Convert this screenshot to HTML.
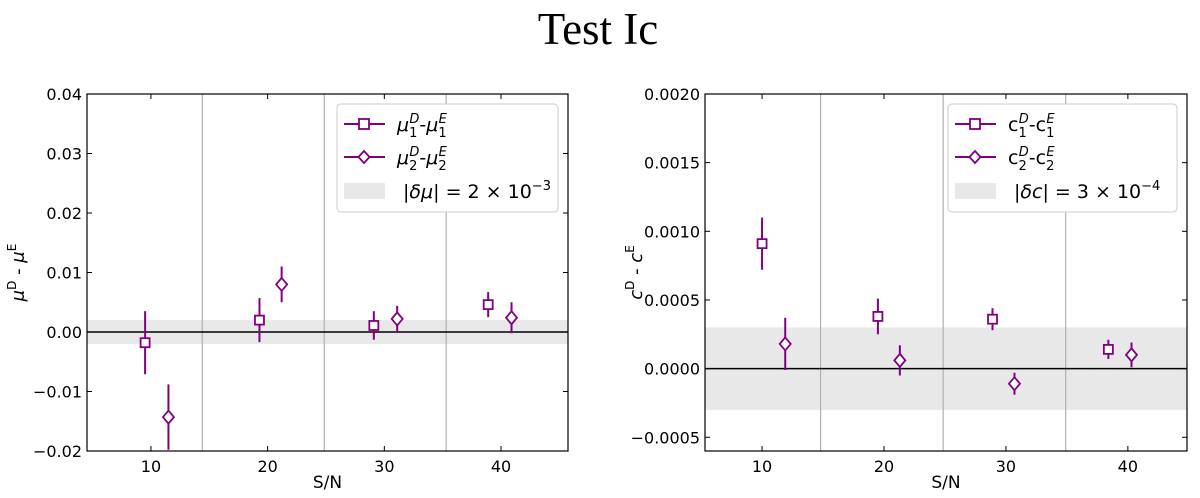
<!DOCTYPE html>
<html><head><meta charset="utf-8"><style>
body{margin:0;background:#fff;width:1200px;height:493px;overflow:hidden}
svg text{font-family:"DejaVu Sans","Liberation Sans",sans-serif;fill:#000}
</style></head><body>
<svg id="fig" width="1200" height="493" xmlns="http://www.w3.org/2000/svg">
<text x="598" y="44" text-anchor="middle" style="font-family:'Liberation Serif',serif;font-size:45px">Test Ic</text>
</svg>
<script>
const NS="http://www.w3.org/2000/svg";
const svg=document.getElementById('fig');
const PURPLE="#800080";
// Left panel data
const muSqX=[9.5,19.3,29.1,38.9];
const muSqY=[-0.0018,0.0020,0.0011,0.0046];
const muSqE=[0.0053,0.0037,0.0024,0.0021];
const muDiX=[11.5,21.2,31.1,40.9];
const muDiY=[-0.0143,0.0080,0.0022,0.0024];
const muDiE=[0.0055,0.0030,0.0022,0.0026];
const muTicks=[-0.02,-0.01,0.00,0.01,0.02,0.03,0.04];
const muTickLabels=["\u22120.02","\u22120.01","0.00","0.01","0.02","0.03","0.04"];
// Right panel data
const cSqX=[10.0,19.5,28.9,38.4];
const cSqY=[0.00091,0.00038,0.00036,0.00014];
const cSqE=[0.00019,0.00013,0.00008,0.00007];
const cDiX=[11.9,21.3,30.7,40.3];
const cDiY=[0.00018,0.00006,-0.00011,0.00010];
const cDiE=[0.00019,0.00011,0.00008,0.00009];
const cTicks=[-0.0005,0,0.0005,0.0010,0.0015,0.0020];
const cTickLabels=["\u22120.0005","0.0000","0.0005","0.0010","0.0015","0.0020"];
const xTicks=[10,20,30,40];
const vLines=[[14.4,24.85,35.3],[14.8,24.85,34.9]];

function el(tag,attrs,parent){const e=document.createElementNS(NS,tag);for(const k in attrs)e.setAttribute(k,attrs[k]);(parent||svg).appendChild(e);return e;}

function panel(cfg){
  const g=el('g',{});
  
  
  const X=v=>cfg.L+(v-cfg.xmin)/(cfg.xmax-cfg.xmin)*(cfg.R-cfg.L);
  const Y=v=>cfg.B-(v-cfg.ymin)/(cfg.ymax-cfg.ymin)*(cfg.B-cfg.T);
  const clip='clip-'+cfg.name;
  const cp=el('clipPath',{id:clip},g);el('rect',{x:cfg.L,y:cfg.T,width:cfg.R-cfg.L,height:cfg.B-cfg.T},cp);
  const band=el('rect',{x:cfg.L,y:Y(cfg.band),width:cfg.R-cfg.L,height:Y(-cfg.band)-Y(cfg.band),fill:"#e8e8e8"},g);
  
  
  cfg.vl.forEach(v=>{const l=el('line',{x1:X(v),x2:X(v),y1:cfg.T,y2:cfg.B,stroke:"#b0b0b0","stroke-width":1.2},g);
    
    });
  const z=el('line',{x1:cfg.L,x2:cfg.R,y1:Y(0),y2:Y(0),stroke:"#000","stroke-width":1.5},g);
  
  
  const pg=el('g',{'clip-path':`url(#${clip})`},g);
  function pts(xs,ys,es,shape,nm){
    xs.forEach((x,i)=>{
      const px=X(x),py=Y(ys[i]);
      const e=el('line',{x1:px,x2:px,y1:Y(ys[i]+es[i]),y2:Y(ys[i]-es[i]),stroke:PURPLE,"stroke-width":2},pg);
      
      
      let m;
      if(shape==='sq') m=el('rect',{x:px-4.5,y:py-4.5,width:9,height:9,fill:"#fff",stroke:PURPLE,"stroke-width":1.8},pg);
      else m=el('polygon',{points:`${px},${py-6.5} ${px+5.5},${py} ${px},${py+6.5} ${px-5.5},${py}`,fill:"#fff",stroke:PURPLE,"stroke-width":1.8},pg);
      
      
    });
  }
  pts(cfg.sx,cfg.sy,cfg.se,'sq','series-1');
  pts(cfg.dx,cfg.dy,cfg.de,'di','series-2');
  const fr=el('rect',{x:cfg.L,y:cfg.T,width:cfg.R-cfg.L,height:cfg.B-cfg.T,fill:"none",stroke:"#000","stroke-width":1.2},g);
  
  
  cfg.yt.forEach((v,i)=>{const y=Y(v);
    el('line',{x1:cfg.L,x2:cfg.L+5,y1:y,y2:y,stroke:"#000"},g);
    el('line',{x1:cfg.R,x2:cfg.R-5,y1:y,y2:y,stroke:"#000"},g);
    const t=el('text',{x:cfg.L-5,y:y+6,'text-anchor':'end','font-size':16},g);t.textContent=cfg.ytl[i];
    
    });
  xTicks.forEach(v=>{const x=X(v);
    el('line',{x1:x,x2:x,y1:cfg.B,y2:cfg.B-5,stroke:"#000"},g);
    el('line',{x1:x,x2:x,y1:cfg.T,y2:cfg.T+5,stroke:"#000"},g);
    const t=el('text',{x:x,y:cfg.B+21,'text-anchor':'middle','font-size':16},g);t.textContent=v;
    
    });
  const xl=el('text',{x:(cfg.L+cfg.R)/2,y:cfg.B+37,'text-anchor':'middle','font-size':17},g);xl.textContent="S/N";
  
  
  const yl=el('text',{transform:`translate(${cfg.ylx},${(cfg.T+cfg.B)/2}) rotate(-90)`,'text-anchor':'middle','font-size':18},g);
  yl.innerHTML=cfg.ylab;
  
  
  // legend
  const lg=el('g',{},g);
  
  
  el('rect',{x:cfg.lx,y:104,width:cfg.lw,height:108,rx:4,fill:"#fff",stroke:"#ccc","stroke-width":1},lg);
  const rows=[[124,'sq',cfg.l1],[157,'di',cfg.l2]];
  rows.forEach(([y,s,lab])=>{
    el('line',{x1:cfg.lx+7,x2:cfg.lx+48,y1:y,y2:y,stroke:PURPLE,"stroke-width":2},lg);
    const cx=cfg.lx+27;
    if(s==='sq')el('rect',{x:cx-5,y:y-5,width:10,height:10,fill:"#fff",stroke:PURPLE,"stroke-width":1.8},lg);
    else el('polygon',{points:`${cx},${y-6} ${cx+5.5},${y} ${cx},${y+6} ${cx-5.5},${y}`,fill:"#fff",stroke:PURPLE,"stroke-width":1.8},lg);
    const t=el('text',{x:cfg.lx+60,y:y+7,'font-size':19},lg);t.innerHTML=lab;
    
    
  });
  el('rect',{x:cfg.lx+7,y:183,width:41,height:16,fill:"#e8e8e8"},lg);
  const t3=el('text',{x:cfg.lx+66,y:198,'font-size':19},lg);t3.innerHTML=cfg.l3;
  
  
}
function lab(b,s,it){const st=it?' font-style="italic"':'';
  return `<tspan${st}>${b}</tspan><tspan font-size="13" dy="6">${s}</tspan><tspan font-size="13" dx="-8" dy="-14" font-style="italic">D</tspan><tspan dy="8">-</tspan><tspan${st}>${b}</tspan><tspan font-size="13" dy="6">${s}</tspan><tspan font-size="13" dx="-8" dy="-14" font-style="italic">E</tspan>`;}
panel({name:'mu-panel',L:87,R:568,T:94,B:451,xmin:4.52,xmax:45.74,ymin:-0.02,ymax:0.04,band:0.002,vl:vLines[0],
  sx:muSqX,sy:muSqY,se:muSqE,dx:muDiX,dy:muDiY,de:muDiE,yt:muTicks,ytl:muTickLabels,ylx:24,
  ylab:'<tspan font-style="italic">μ</tspan><tspan font-size="12" dy="-8">D</tspan><tspan dy="8"> - </tspan><tspan font-style="italic">μ</tspan><tspan font-size="12" dy="-8">E</tspan>',
  lx:337,lw:221,
  l1:lab('μ','1',true), l2:lab('μ','2',true),
  l3:'|<tspan font-style="italic">δμ</tspan>| = 2 × 10<tspan font-size="13" dy="-8">−3</tspan>'});
panel({name:'c-panel',L:705,R:1187,T:94,B:451,xmin:5.32,xmax:44.85,ymin:-0.0006,ymax:0.0020,band:0.0003,vl:vLines[1],
  sx:cSqX,sy:cSqY,se:cSqE,dx:cDiX,dy:cDiY,de:cDiE,yt:cTicks,ytl:cTickLabels,ylx:642,
  ylab:'<tspan font-style="italic">c</tspan><tspan font-size="12" dy="-8">D</tspan><tspan dy="8"> - </tspan><tspan font-style="italic">c</tspan><tspan font-size="12" dy="-8">E</tspan>',
  lx:948,lw:229,
  l1:lab('c','1',false), l2:lab('c','2',false),
  l3:'|<tspan font-style="italic">δc</tspan>| = 3 × 10<tspan font-size="13" dy="-8">−4</tspan>'});
</script>
</body></html>
